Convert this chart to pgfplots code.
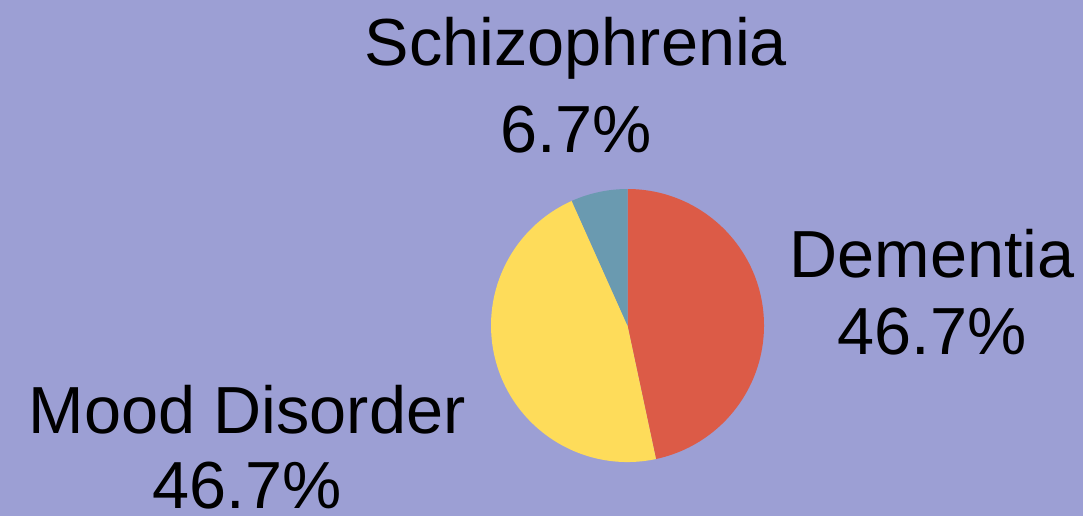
\documentclass[border=0pt]{standalone}
\usepackage{pgfplots}
\pgfplotsset{compat=1.18}
\usepackage{fontspec}
\setmainfont{Liberation Sans}
\definecolor{bg}{HTML}{9C9FD4}
\definecolor{cDem}{HTML}{DC5B47}
\definecolor{cMood}{HTML}{FEDC5A}
\definecolor{cSch}{HTML}{6A9AB0}
\begin{document}
\begin{tikzpicture}
\def\vDem{46.7}
\def\vMood{46.7}
\def\vSch{6.7}
\pgfmathsetmacro{\tot}{\vDem+\vMood+\vSch}
\pgfmathsetmacro{\aA}{90}
\pgfmathsetmacro{\aB}{\aA-360*(\vDem/\tot)}
\pgfmathsetmacro{\aC}{\aB-360*(\vMood/\tot)}
\pgfmathsetmacro{\aD}{\aC-360*(\vSch/\tot)}
\def\cx{627.5}
\def\cy{325.5}
\def\r{136.5}
\path[use as bounding box, fill=bg] (0,0) rectangle (10.83cm,5.16cm);
\begin{axis}[at={(0,0)}, anchor=south west, scale only axis,
  width=10.83cm, height=5.16cm,
  xmin=0, xmax=1083, ymin=0, ymax=516, y dir=reverse,
  hide axis, clip=false]
\fill[cDem] (axis cs:\cx,\cy) -- (axis cs:{\cx+\r*cos(\aA)},{\cy-\r*sin(\aA)}) arc[start angle=\aA, end angle=\aB, radius=1.365cm] -- cycle;
\fill[cMood] (axis cs:\cx,\cy) -- (axis cs:{\cx+\r*cos(\aB)},{\cy-\r*sin(\aB)}) arc[start angle=\aB, end angle=\aC, radius=1.365cm] -- cycle;
\fill[cSch] (axis cs:\cx,\cy) -- (axis cs:{\cx+\r*cos(\aC)},{\cy-\r*sin(\aC)}) arc[start angle=\aC, end angle=\aD, radius=1.365cm] -- cycle;
\tikzset{lbl/.style={anchor=base, inner sep=0pt, font=\fontsize{18.95}{22}\selectfont}}
\node[lbl] at (axis cs:576,65) {Schizophrenia};
\node[lbl] at (axis cs:576,152) {6.7\%};
\node[lbl] at (axis cs:932,277) {Dementia};
\node[lbl] at (axis cs:932,354) {46.7\%};
\node[lbl] at (axis cs:247,433) {Mood Disorder};
\node[lbl] at (axis cs:247,508) {46.7\%};
\end{axis}
\end{tikzpicture}
\end{document}
